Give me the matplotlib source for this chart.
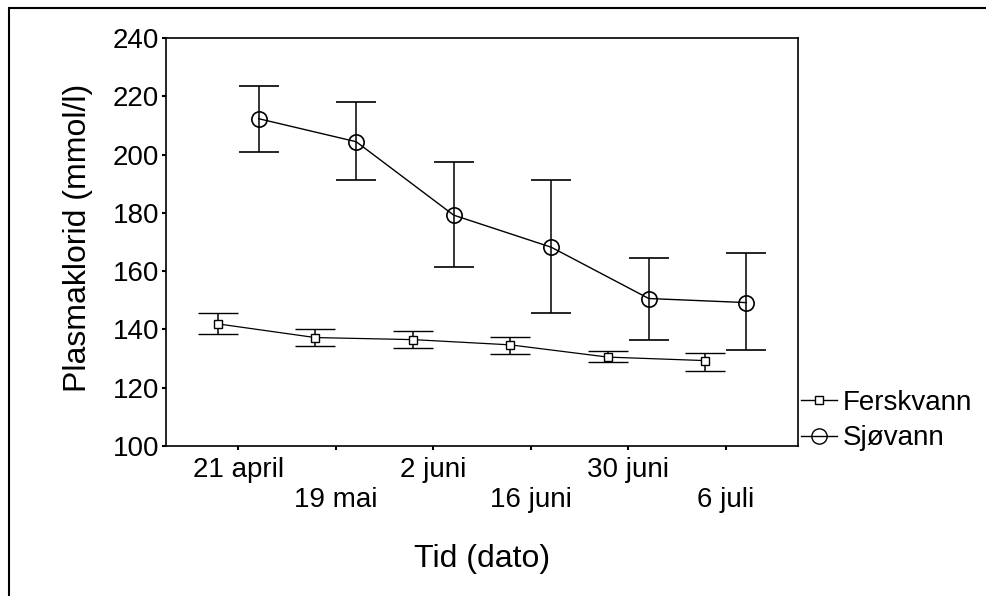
import matplotlib
matplotlib.use("Agg")
import matplotlib.pyplot as plt
from matplotlib.lines import Line2D
from matplotlib.patches import Rectangle
import numpy as np

plt.rcParams['font.family'] = ['Liberation Sans', 'DejaVu Sans']

dates = ["21 april", "19 mai", "2 juni", "16 juni", "30 juni", "6 juli"]

# Ferskvann (freshwater): mean with lower / upper error bar ends
fersk_mean = [141.9, 137.2, 136.5, 134.7, 130.5, 129.3]
fersk_low = [138.3, 134.2, 133.5, 131.6, 128.7, 125.8]
fersk_high = [145.5, 140.1, 139.3, 137.5, 132.5, 131.8]

# Sjøvann (seawater)
sjo_mean = [212.3, 204.4, 179.2, 168.2, 150.6, 149.2]
sjo_low = [201.0, 191.3, 161.3, 145.6, 136.2, 133.0]
sjo_high = [223.5, 217.9, 197.3, 191.3, 164.6, 166.2]

x = np.arange(len(dates))
offset = 0.21

fig = plt.figure(figsize=(9.87, 5.96), dpi=100)
ax = fig.add_axes([0.1682, 0.2517, 0.6403, 0.6846])

f_err = [np.array(fersk_mean) - np.array(fersk_low), np.array(fersk_high) - np.array(fersk_mean)]
s_err = [np.array(sjo_mean) - np.array(sjo_low), np.array(sjo_high) - np.array(sjo_mean)]

ax.errorbar(x - offset, fersk_mean, yerr=f_err, color='black', lw=0.9, elinewidth=1.1,
            capsize=14.4, capthick=1.3, marker='s', ms=6, mfc='white', mec='black', mew=1.0)
ax.errorbar(x + offset, sjo_mean, yerr=s_err, color='black', lw=1.0, elinewidth=1.1,
            capsize=14.4, capthick=1.3, marker='o', ms=11, mfc='none', mec='black', mew=1.2)

ax.set_xlim(-0.74, 5.74)
ax.set_ylim(100, 240)
ax.set_yticks(np.arange(100, 241, 20))
ax.set_xticks(x)
ax.set_xticklabels([d if i % 2 == 0 else "\n" + d for i, d in enumerate(dates)])
ax.tick_params(axis='both', labelsize=20, length=3, width=1.5, direction='out', pad=5)
ax.tick_params(axis='y', pad=2)
for s in ax.spines.values():
    s.set_linewidth(1.2)

ax.set_ylabel("Plasmaklorid (mmol/l)", fontsize=23)
ax.yaxis.set_label_coords(-0.115, 0.51)
ax.set_xlabel("Tid (dato)", fontsize=23)
ax.xaxis.set_label_coords(0.5, -0.24)

handles = [
    Line2D([], [], color='black', lw=1.0, marker='s', ms=6, mfc='white', mec='black'),
    Line2D([], [], color='black', lw=1.0, marker='o', ms=11, mfc='none', mec='black'),
]
ax.legend(handles, ["Ferskvann", "Sjøvann"], loc='lower left', bbox_to_anchor=(1.0, -0.02),
          frameon=False, fontsize=20, handlelength=1.3, handletextpad=0.2, labelspacing=0.35,
          borderaxespad=0.0, borderpad=0.1)

fig.patches.append(Rectangle((0.009, -0.1), 1.2, 1.1 - 0.0134, transform=fig.transFigure,
                             fill=False, lw=1.5, ec='black'))

fig.savefig("out.png", dpi=100)
